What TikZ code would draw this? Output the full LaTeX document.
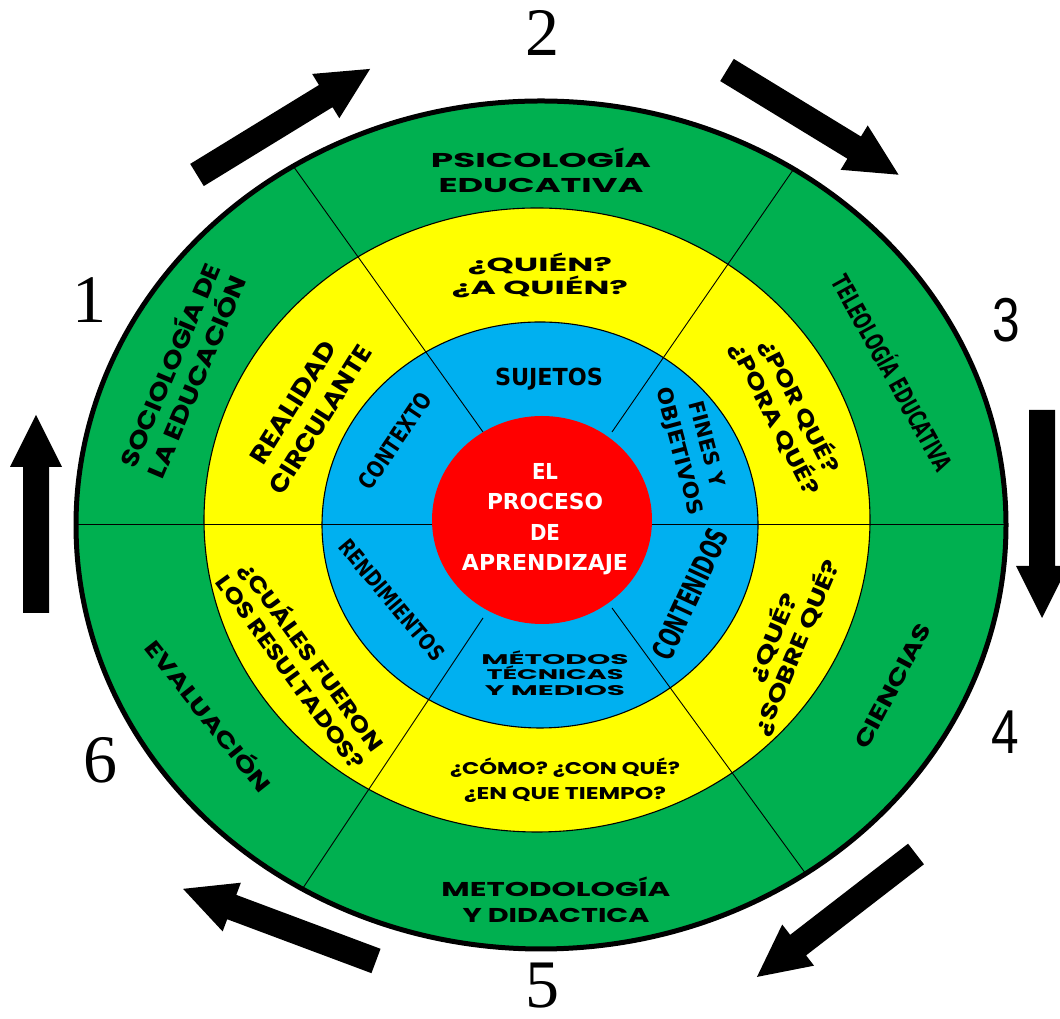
\documentclass[tikz,border=0pt]{standalone}
\usepackage{fontspec}
\usepackage{graphicx}
\newfontfamily\gothic{Poppins}
\newfontfamily\calibB{DejaVu Sans Condensed}
\newfontfamily\serifnum{Liberation Serif}
\newfontfamily\sansnum{Liberation Sans}
\definecolor{ringgreen}{HTML}{00B050}
\definecolor{ringyellow}{HTML}{FFFF00}
\definecolor{ringblue}{HTML}{00B0F0}
\definecolor{ringred}{HTML}{FF0000}
\newcommand\fw[2]{\resizebox{#1pt}{\height}{#2}}
\newcommand\blockarrow[4]{%
  \fill[black, shift={(#1,#2)}, rotate=#3] (0,-13) -- ({#4-52},-13) -- ({#4-52},-26) -- (#4,0) -- ({#4-52},26) -- ({#4-52},13) -- (0,13) -- cycle;}
\tikzset{
  gtxt/.style 2 args={font=\gothic\bfseries\fontsize{#1}{#2}\selectfont, align=center, inner sep=0pt, text=black},
  ctxt/.style 2 args={font=\calibB\bfseries\fontsize{#1}{#2}\selectfont, align=center, inner sep=0pt, text=black},
  ringline/.style={draw=black, line width=1.1pt},
  radial/.style={draw=black, line width=0.9pt},
  numserif/.style={font=\serifnum\fontsize{68}{68}\selectfont, inner sep=0pt},
  numsans/.style={font=\sansnum\fontsize{62}{62}\selectfont, inner sep=0pt}
}
\begin{document}
\begin{tikzpicture}[x=1pt, y=1pt]
\useasboundingbox (0,0) rectangle (1060,1019);
% rings
\fill[ringgreen] (541,494) ellipse [x radius=465, y radius=424];
\fill[ringyellow] (537,499) ellipse [x radius=333, y radius=312];
\fill[ringblue] (540,494) ellipse [x radius=218, y radius=203];
% radial dividers
\begin{scope}
  \clip (541,494) ellipse [x radius=465, y radius=424];
  \draw[radial] (60,495) -- (1025,495);
  \draw[radial] (483,587) -- (276,877);
  \draw[radial] (612,587) -- (811,875);
  \draw[radial] (483,401) -- (289,110);
  \draw[radial] (612,411) -- (822,123);
\end{scope}
\draw[ringline] (537,499) ellipse [x radius=333, y radius=312];
\draw[ringline] (540,494) ellipse [x radius=218, y radius=203];
\fill[ringred] (542,499) ellipse [x radius=110, y radius=104];
\draw[black, line width=5pt] (541,494) ellipse [x radius=465, y radius=424];
% green ring texts
\node[gtxt={20}{25}] (psico) at (541,849) {\fw{220}{PSICOLOGÍA}\\\fw{205}{EDUCATIVA}};
\node[gtxt={24}{29}, rotate=67] (socio) at (181,649) {\fw{219}{SOCIOLOGÍA DE}\\\fw{217}{LA EDUCACIÓN}};
\node[ctxt={25}{25}, rotate=-61] (teleo) at (894,647) {\fw{219}{TELEOLOGÍA EDUCATIVA}};
\node[gtxt={22}{22}, rotate=62] (ciencias) at (893,333) {\fw{138}{CIENCIAS}};
\node[gtxt={20}{26.5}] (metodologia) at (556,119) {\fw{229}{METODOLOGÍA}\\\fw{187}{Y DIDACTICA}};
\node[gtxt={22}{22}, rotate=-51.6] (evaluacion) at (210,304) {\fw{187}{EVALUACIÓN}};
% yellow ring texts
\node[gtxt={19}{23}] (quien) at (540,744) {\fw{144}{¿QUIÉN?}\\\fw{176}{¿A QUIÉN?}};
\node[gtxt={25}{32}, rotate=58] (realidad) at (307,608) {\fw{140}{REALIDAD}\\\fw{170}{CIRCULANTE}};
\node[gtxt={22}{28}, rotate=-63] (porque) at (788,607) {\fw{147}{¿POR QUÉ?}\\\fw{168}{¿PORA QUÉ?}};
\node[gtxt={22}{26}, rotate=67] (que) at (784,377) {\fw{93}{¿QUÉ?}\\\fw{188}{¿SOBRE QUÉ?}};
\node[gtxt={17}{25}] (como) at (565,239) {\fw{230}{¿CÓMO? ¿CON QUÉ?}\\\fw{202}{¿EN QUE TIEMPO?}};
\node[gtxt={22}{26.5}, rotate=-54] (cuales) at (303,356) {\fw{227}{¿CUÁLES FUERON}\\\fw{234}{LOS RESULTADOS?}};
% blue ring texts
\node[ctxt={23.5}{23.5}] (sujetos) at (549,640) {\fw{108}{SUJETOS}};
\node[ctxt={23}{23}, rotate=56] (contexto) at (395,578) {\fw{111}{CONTEXTO}};
\node[ctxt={21}{28}, rotate=-75] (fines) at (692,571) {\fw{88}{FINES Y}\\\fw{131}{OBJETIVOS}};
\node[ctxt={30}{30}, rotate=65] (contenidos) at (690,425) {\fw{141}{CONTENIDOS}};
\node[ctxt={22}{22}, rotate=-50] (rendimientos) at (392,419) {\fw{150}{RENDIMIENTOS}};
\node[gtxt={14}{15.5}] (metodos) at (555,346) {\fw{147}{MÉTODOS}\\\fw{137}{TÉCNICAS}\\\fw{140}{Y MEDIOS}};
% center
\node[ctxt={22}{30.5}, text=white] (proceso) at (545,500) {\fw{26}{EL}\\\fw{116}{PROCESO}\\\fw{30}{DE}\\\fw{166}{APRENDIZAJE}};
% numbers
\node[numserif] (n1) at (89,719) {1};
\node[numserif] (n2) at (542,986) {2};
\node[numsans, xscale=0.8] (n3) at (1006,699) {3};
\node[numsans, xscale=0.8] (n4) at (1005,287) {4};
\node[numserif] (n5) at (542,33) {5};
\node[numserif] (n6) at (100,259) {6};
% arrows
\blockarrow{197}{844}{31.5}{203}
\blockarrow{727}{949}{-31.4}{201}
\blockarrow{1042}{609}{-90}{208}
\blockarrow{916}{165}{217.7}{201}
\blockarrow{376}{58}{159.5}{206}
\blockarrow{36}{406}{90}{198}
\end{tikzpicture}
\end{document}
